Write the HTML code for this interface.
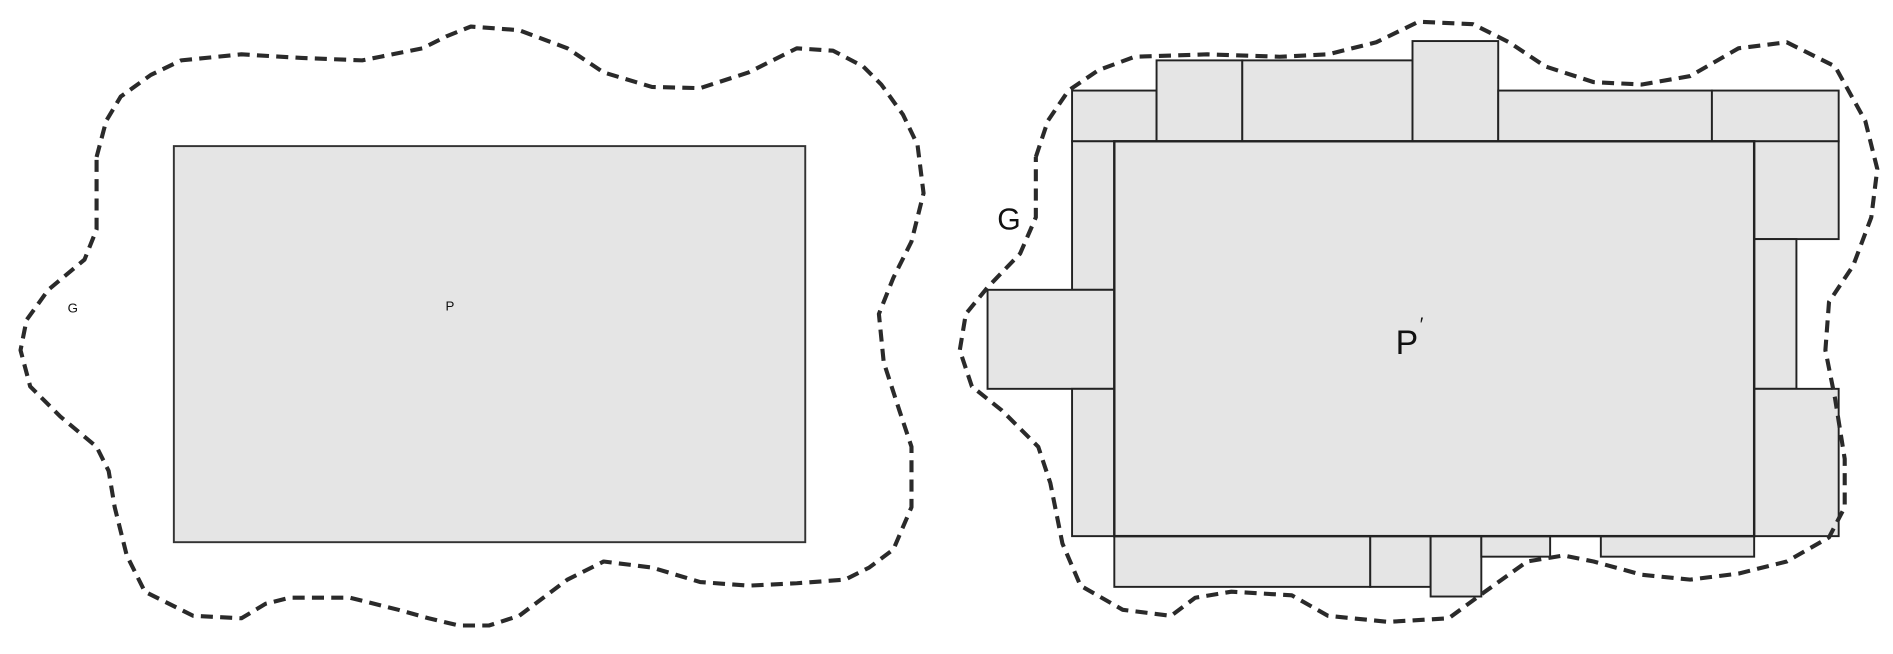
<!DOCTYPE html>
<html><head><meta charset="utf-8"><style>
html,body{margin:0;padding:0;background:#fff;}
svg{display:block;}
text{font-family:"Liberation Sans",sans-serif;fill:#111;}
</style></head><body>
<svg width="1893" height="654" viewBox="0 0 1568 541.6" preserveAspectRatio="none" xmlns="http://www.w3.org/2000/svg">
<g fill="#e5e5e5" stroke="#333" stroke-width="1.6">
<rect x="144" y="121" width="523" height="328"/>
</g>
<g fill="#e5e5e5" stroke="#222" stroke-width="1.6">
<rect x="888" y="75" width="70" height="42"/>
<rect x="958" y="50" width="71" height="67"/>
<rect x="1029" y="50" width="141" height="67"/>
<rect x="1170" y="34" width="71" height="83"/>
<rect x="1241" y="75" width="177" height="42"/>
<rect x="1418" y="75" width="105" height="42"/>
<rect x="888" y="117" width="35" height="123"/>
<rect x="818" y="240" width="105" height="82"/>
<rect x="888" y="322" width="35" height="122"/>
<rect x="1453" y="117" width="70" height="81"/>
<rect x="1453" y="198" width="35" height="124"/>
<rect x="1453" y="322" width="70" height="122"/>
<rect x="923" y="444" width="212" height="42"/>
<rect x="1135" y="444" width="50" height="42"/>
<rect x="1185" y="444" width="42" height="50"/>
<rect x="1227" y="444" width="57" height="17"/>
<rect x="1326" y="444" width="127" height="17"/>
<rect x="923" y="117" width="530" height="327" stroke-width="2"/>
</g>
<g fill="none" stroke="#2a2a2a" stroke-width="3.4" stroke-dasharray="10 6" stroke-linejoin="round">
<polyline points="80,130 88,100 100,80 125,62 150,50 200,45 250,48 300,50 350,40 370,30 390,22 430,25 470,40 500,60 540,72 580,73 620,60 660,40 690,42 715,55 730,70 748,95 760,120 765,160 755,200 740,230 728,260 732,300 745,340 755,370 755,420 740,455 720,470 700,480 660,483 620,485 580,482 540,470 500,465 470,480 450,495 430,510 405,518 380,518 355,512 330,505 290,495 240,495 220,500 200,512 160,510 120,490 105,460 95,420 90,390 80,370 50,345 25,320 17,290 22,265 40,240 70,215 80,190 80,130"/>
<polyline points="858,130 868,100 885,75 910,58 940,47 1000,45 1060,47 1100,45 1140,35 1175,18 1220,20 1250,35 1280,55 1320,68 1360,70 1400,63 1440,40 1480,35 1520,55 1545,100 1555,140 1550,180 1535,220 1515,250 1512,290 1520,330 1528,380 1528,420 1515,445 1480,465 1440,475 1400,480 1360,476 1320,465 1295,460 1265,465 1230,490 1200,512 1150,515 1100,510 1070,493 1020,490 990,495 970,510 930,505 895,485 880,450 870,400 860,370 830,340 805,320 795,290 800,260 818,238 845,210 858,180 858,130"/>
</g>
<text x="56" y="259" font-size="11">G</text>
<text x="369" y="257" font-size="11">P</text>
<text x="826" y="190" font-size="25">G</text>
<text x="1156" y="293" font-size="28">P</text>
<text x="1176" y="274" font-size="16">′</text>
</svg>
</body></html>
